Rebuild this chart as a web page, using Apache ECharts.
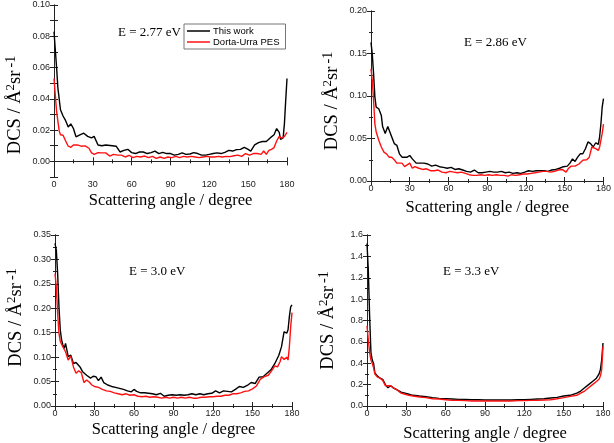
<!DOCTYPE html>
<html>
<head>
<meta charset="utf-8">
<script src="https://cdn.jsdelivr.net/npm/echarts@6/dist/echarts.min.js"></script>
<style>
  html, body { margin: 0; padding: 0; background: #fff; }
  #chart { width: 614px; height: 443px; }
</style>
</head>
<body>
<div id="chart"></div>
<script>
// 图例与标注
const legendNames = ['This work', 'Dorta-Urra PES']
const energyLabels = ['E = 2.77 eV', 'E = 2.86 eV', 'E = 3.0 eV', 'E = 3.3 eV']
const xTicks = [0, 30, 60, 90, 120, 150, 180]

// Y 轴范围
const yMin = [-0.01, 0, 0, 0]
const yMax = [0.10, 0.20, 0.35, 1.6]
const yStep = [0.01, 0.05, 0.05, 0.2]
const yDigits = [2, 2, 2, 1]

// E = 2.77 eV  [角度, DCS]
const blackA = [[0,0.083],[2,0.060],[3,0.047],[5,0.033],[7,0.029],[9,0.026],[11,0.022],[13,0.024],[15,0.021],[17,0.0157],[20,0.017],[23,0.018],[26,0.016],[29,0.015],[31,0.016],[34,0.0105],[37,0.010],[40,0.0105],[45,0.010],[48,0.0097],[51,0.006],[54,0.007],[57,0.0077],[60,0.0056],[63,0.005],[66,0.006],[69,0.006],[72,0.005],[75,0.0056],[78,0.0066],[81,0.005],[84,0.0058],[87,0.005],[90,0.005],[93,0.004],[96,0.0045],[99,0.0054],[102,0.0045],[105,0.0047],[108,0.0056],[111,0.005],[114,0.004],[117,0.004],[120,0.0045],[123,0.005],[126,0.0054],[129,0.005],[132,0.0058],[135,0.007],[138,0.0066],[141,0.0075],[144,0.0077],[147,0.009],[150,0.0077],[152,0.0066],[155,0.0105],[158,0.012],[161,0.0127],[164,0.0127],[167,0.015],[170,0.017],[172,0.021],[174,0.0185],[175,0.014],[177,0.015],[178,0.024],[179,0.039],[180,0.053]]
const redA = [[0,0.053],[2,0.032],[4,0.0195],[5,0.017],[7,0.0167],[9,0.013],[11,0.0097],[13,0.009],[15,0.0105],[18,0.0105],[21,0.0097],[24,0.0099],[27,0.0084],[29,0.0054],[31,0.0045],[34,0.0056],[37,0.0054],[40,0.0054],[43,0.0034],[46,0.0045],[49,0.004],[52,0.004],[55,0.0028],[58,0.0039],[61,0.0024],[64,0.0032],[67,0.0028],[70,0.0034],[73,0.0024],[76,0.0032],[79,0.0019],[82,0.0028],[85,0.0019],[88,0.0028],[91,0.0024],[94,0.0032],[97,0.0024],[100,0.0032],[103,0.0028],[106,0.0032],[109,0.0028],[112,0.0024],[115,0.0028],[118,0.0032],[121,0.0028],[124,0.0028],[127,0.0032],[130,0.0028],[133,0.0032],[136,0.003],[139,0.0036],[142,0.004],[145,0.0032],[148,0.005],[151,0.004],[154,0.005],[157,0.005],[160,0.0045],[162,0.0066],[164,0.0045],[166,0.007],[168,0.0077],[170,0.0088],[172,0.013],[174,0.016],[176,0.0148],[178,0.016],[180,0.0185]]

// E = 2.86 eV
const blackB = [[0,0.163],[1,0.149],[2,0.126],[3,0.099],[4,0.087],[6,0.085],[8,0.077],[9,0.064],[11,0.056],[13,0.064],[14,0.064],[16,0.052],[18,0.044],[20,0.042],[22,0.032],[24,0.028],[26,0.028],[28,0.028],[30,0.030],[32,0.026],[35,0.021],[38,0.021],[41,0.021],[44,0.020],[47,0.0175],[50,0.0187],[53,0.0168],[56,0.016],[59,0.015],[62,0.016],[65,0.0136],[68,0.0144],[71,0.0129],[74,0.0113],[77,0.0105],[80,0.0129],[83,0.0097],[86,0.0097],[89,0.0105],[92,0.0113],[95,0.0105],[98,0.0105],[101,0.0113],[104,0.0097],[107,0.0105],[110,0.009],[113,0.0097],[116,0.009],[119,0.0105],[122,0.0121],[125,0.0113],[128,0.0121],[131,0.0121],[134,0.0121],[137,0.0113],[140,0.0129],[143,0.0136],[146,0.015],[149,0.0168],[152,0.0175],[154,0.021],[156,0.026],[158,0.023],[160,0.028],[162,0.032],[164,0.032],[166,0.038],[168,0.046],[170,0.044],[172,0.040],[174,0.045],[176,0.043],[177,0.052],[178,0.067],[179,0.087],[180,0.097]]
const redB = [[0,0.132],[1,0.118],[2,0.095],[3,0.067],[4,0.058],[6,0.048],[8,0.040],[10,0.034],[12,0.032],[14,0.028],[16,0.028],[18,0.025],[20,0.021],[22,0.021],[24,0.021],[26,0.017],[28,0.019],[30,0.021],[32,0.015],[34,0.017],[37,0.015],[40,0.0136],[43,0.0144],[46,0.0121],[49,0.0121],[52,0.0129],[55,0.0105],[58,0.0097],[61,0.0113],[64,0.0105],[67,0.0097],[70,0.0105],[73,0.009],[76,0.0074],[79,0.0066],[82,0.0066],[85,0.0074],[88,0.0066],[91,0.0074],[94,0.0066],[97,0.0074],[100,0.0066],[103,0.0066],[106,0.0058],[109,0.0074],[112,0.0066],[115,0.0074],[118,0.0082],[121,0.0082],[124,0.009],[127,0.0097],[130,0.0105],[133,0.0113],[136,0.0113],[139,0.0105],[142,0.0113],[145,0.0129],[148,0.0136],[151,0.0105],[153,0.015],[155,0.0175],[158,0.0175],[161,0.020],[164,0.0245],[167,0.025],[169,0.028],[171,0.040],[172,0.042],[174,0.038],[176,0.036],[177,0.040],[178,0.048],[179,0.056],[180,0.067]]

// E = 3.0 eV
const blackC = [[0,0.333],[1,0.319],[2,0.271],[3,0.203],[4,0.156],[5,0.135],[6,0.125],[7,0.118],[8,0.128],[9,0.115],[10,0.101],[12,0.104],[14,0.087],[16,0.089],[17,0.093],[19,0.080],[21,0.070],[24,0.063],[27,0.057],[29,0.061],[31,0.060],[33,0.052],[35,0.059],[37,0.048],[40,0.043],[43,0.040],[46,0.038],[49,0.036],[52,0.034],[55,0.031],[58,0.029],[60,0.034],[62,0.030],[65,0.027],[68,0.027],[71,0.026],[74,0.025],[77,0.023],[80,0.026],[83,0.020],[86,0.022],[89,0.023],[92,0.022],[95,0.023],[98,0.022],[101,0.023],[104,0.025],[107,0.023],[110,0.025],[113,0.023],[116,0.025],[119,0.026],[122,0.031],[125,0.027],[128,0.031],[131,0.030],[134,0.029],[137,0.034],[140,0.040],[143,0.038],[146,0.042],[149,0.048],[152,0.046],[155,0.059],[158,0.060],[161,0.067],[164,0.074],[167,0.087],[170,0.104],[172,0.121],[174,0.152],[176,0.149],[177,0.156],[178,0.183],[179,0.203],[180,0.207]]
const redC = [[0,0.271],[1,0.244],[2,0.190],[3,0.149],[4,0.132],[5,0.128],[6,0.121],[8,0.111],[10,0.094],[12,0.102],[14,0.080],[16,0.067],[18,0.072],[20,0.068],[22,0.048],[24,0.053],[26,0.049],[28,0.043],[30,0.040],[33,0.038],[36,0.034],[39,0.031],[42,0.030],[45,0.027],[48,0.025],[51,0.023],[54,0.025],[57,0.022],[60,0.023],[63,0.020],[66,0.019],[69,0.020],[72,0.018],[75,0.019],[78,0.018],[81,0.016],[84,0.018],[87,0.016],[90,0.018],[93,0.016],[96,0.018],[99,0.016],[102,0.018],[105,0.016],[108,0.016],[111,0.018],[114,0.018],[117,0.019],[120,0.019],[123,0.020],[126,0.020],[129,0.022],[132,0.022],[135,0.025],[138,0.025],[141,0.027],[144,0.030],[147,0.031],[150,0.035],[153,0.041],[156,0.055],[159,0.060],[162,0.063],[165,0.074],[167,0.082],[169,0.080],[171,0.091],[172,0.101],[174,0.095],[176,0.100],[177,0.094],[178,0.121],[179,0.162],[180,0.191]]

// E = 3.3 eV
const blackD = [[0,1.52],[1,1.27],[2,0.84],[3,0.50],[4,0.43],[5,0.40],[6,0.31],[8,0.28],[10,0.26],[12,0.25],[14,0.20],[16,0.17],[18,0.19],[20,0.17],[23,0.15],[26,0.13],[29,0.12],[32,0.11],[35,0.10],[40,0.093],[45,0.087],[50,0.078],[55,0.071],[60,0.068],[65,0.065],[70,0.062],[75,0.062],[80,0.059],[85,0.059],[90,0.056],[95,0.056],[100,0.056],[105,0.056],[110,0.056],[115,0.059],[120,0.059],[125,0.062],[130,0.065],[135,0.068],[140,0.075],[145,0.081],[150,0.093],[155,0.10],[160,0.12],[163,0.14],[166,0.17],[169,0.20],[172,0.23],[175,0.26],[177,0.30],[178,0.34],[179,0.43],[180,0.59]]
const redD = [[0,0.75],[1,0.62],[2,0.50],[3,0.43],[4,0.40],[5,0.36],[6,0.30],[8,0.27],[10,0.26],[12,0.24],[14,0.19],[16,0.19],[18,0.19],[20,0.17],[23,0.15],[26,0.12],[29,0.11],[32,0.10],[35,0.093],[40,0.084],[45,0.078],[50,0.068],[55,0.065],[60,0.059],[65,0.053],[70,0.053],[75,0.050],[80,0.047],[85,0.047],[90,0.047],[95,0.047],[100,0.047],[105,0.047],[110,0.047],[115,0.050],[120,0.050],[125,0.053],[130,0.053],[135,0.056],[140,0.059],[145,0.068],[150,0.078],[155,0.090],[160,0.10],[163,0.12],[166,0.14],[169,0.17],[172,0.20],[175,0.23],[177,0.25],[178,0.28],[179,0.34],[180,0.56]]

const blackData = [blackA, blackB, blackC, blackD]
const redData = [redA, redB, redC, redD]

// 各子图位置
const grids = [
  { left: 54, top: 5, width: 233, height: 172 },
  { left: 371, top: 11, width: 233, height: 170 },
  { left: 55, top: 235, width: 237, height: 171 },
  { left: 367, top: 235, width: 236, height: 172 }
]
const yNameShift = [28, 10, -6, 0]
const xNameGap = [15, 18, 15, 19]
const labelPos = [[118, 26], [464, 36], [129, 265], [443, 265]]

const SANS = 'Liberation Sans, Arial, sans-serif'
const SERIF = 'Liberation Serif, Times New Roman, serif'

const tickStyle = { show: true, inside: true, length: 4, lineStyle: { color: '#222' } }
const minorStyle = { show: true, splitNumber: 2, length: 2, lineStyle: { color: '#222' } }

const xAxes = []
const yAxes = []
const series = []

grids.forEach((g, i) => {
  // 第一幅图每 0.01 一个刻度，只标偶数
  const fmtY = (v) => {
    if (v < -1e-9) return ''
    if (i === 0 && Math.round(v * 100) % 2 !== 0) return ''
    return Math.abs(v).toFixed(yDigits[i])
  }
  // 下方 X 轴
  xAxes.push({
    type: 'value', gridIndex: i, position: 'bottom',
    min: 0, max: 180, interval: 30,
    name: 'Scattering angle / degree', nameLocation: 'middle', nameGap: xNameGap[i],
    nameTextStyle: { fontFamily: SERIF, fontSize: 16.5, color: '#000' },
    axisLine: { show: true, lineStyle: { color: '#222', width: 1 } },
    axisTick: tickStyle, minorTick: minorStyle,
    axisLabel: { fontFamily: SANS, fontSize: 9, color: '#222', margin: 3 },
    splitLine: { show: false }
  })
  // 上方 X 轴（只有刻度）
  xAxes.push({
    type: 'value', gridIndex: i, position: 'top',
    min: 0, max: 180, interval: 30,
    axisLine: { show: true, lineStyle: { color: '#222', width: 1 } },
    axisTick: tickStyle, minorTick: minorStyle,
    axisLabel: { show: false }, splitLine: { show: false }
  })
  // 左侧 Y 轴
  yAxes.push({
    type: 'value', gridIndex: i, position: 'left',
    min: yMin[i], max: yMax[i], interval: yStep[i],
    name: '{a|DCS / Å}{s|2}{a|sr}{t|-1}', nameLocation: 'middle', nameGap: 29,
    nameTextStyle: {
      padding: [0, Math.max(yNameShift[i], 0), 0, Math.max(-yNameShift[i], 0)],
      rich: {
        a: { fontFamily: SERIF, fontSize: 18.5, color: '#000', lineHeight: 21, verticalAlign: 'bottom' },
        s: { fontFamily: SERIF, fontSize: 13, color: '#000', lineHeight: 21, verticalAlign: 'top' },
        t: { fontFamily: SERIF, fontSize: 14, color: '#000', lineHeight: 21, verticalAlign: 'top', padding: [0, 0, 0, 3] }
      }
    },
    axisLine: { show: true, lineStyle: { color: '#222', width: 1 } },
    axisTick: tickStyle, minorTick: i === 0 ? { show: false } : minorStyle,
    axisLabel: { fontFamily: SANS, fontSize: 9, color: '#222', margin: 4, formatter: fmtY },
    splitLine: { show: false }
  })
  // 右侧 Y 轴（只有刻度）
  yAxes.push({
    type: 'value', gridIndex: i, position: 'right',
    min: yMin[i], max: yMax[i], interval: yStep[i],
    axisLine: { show: true, lineStyle: { color: '#222', width: 1 } },
    axisTick: tickStyle, minorTick: i === 0 ? { show: false } : minorStyle,
    axisLabel: { show: false }, splitLine: { show: false }
  })

  series.push({
    name: legendNames[0], type: 'line', xAxisIndex: i * 2, yAxisIndex: i * 2,
    data: blackData[i], showSymbol: false, symbol: 'none',
    lineStyle: { color: '#000', width: 1.4 }, itemStyle: { color: '#000' }
  })
  series.push({
    name: legendNames[1], type: 'line', xAxisIndex: i * 2, yAxisIndex: i * 2,
    data: redData[i], showSymbol: false, symbol: 'none',
    lineStyle: { color: '#ff1010', width: 1.4 }, itemStyle: { color: '#ff1010' }
  })
})

const titles = energyLabels.map((t, i) => ({
  text: t, left: labelPos[i][0], top: labelPos[i][1], padding: 0,
  textStyle: { fontFamily: SERIF, fontSize: 13, fontWeight: 'normal', color: '#000' }
}))

const chart = echarts.init(document.getElementById('chart'))
chart.setOption({
  animation: false,
  backgroundColor: '#fff',
  title: titles,
  legend: {
    data: legendNames,
    orient: 'vertical',
    left: 184, top: 24,
    padding: [2, 6, 2, 3],
    itemGap: 1,
    itemWidth: 23, itemHeight: 1.5,
    icon: 'rect',
    borderColor: '#777', borderWidth: 1,
    textStyle: { fontFamily: SANS, fontSize: 9.5, color: '#000', padding: [0, 0, 0, -2] }
  },
  grid: grids.map(g => ({ ...g, show: false })),
  xAxis: xAxes,
  yAxis: yAxes,
  series
})
</script>
</body>
</html>
